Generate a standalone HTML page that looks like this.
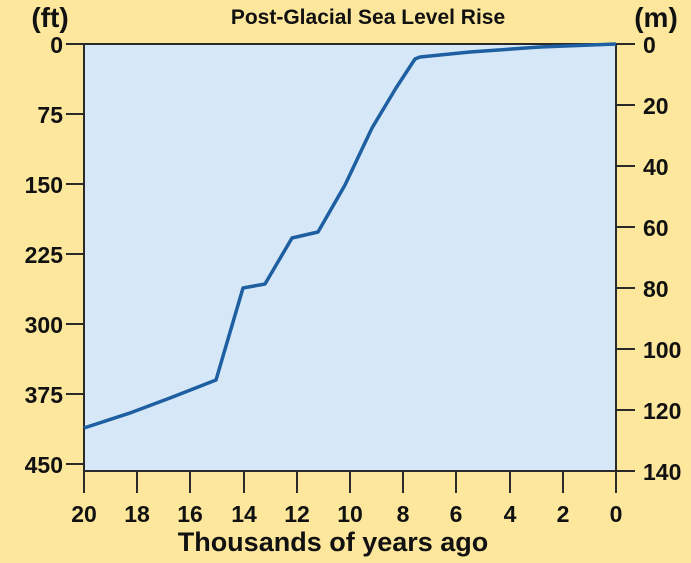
<!DOCTYPE html>
<html><head><style>body{margin:0;background:#fce79d}</style></head><body>
<svg width="691" height="563" xmlns="http://www.w3.org/2000/svg" style="display:block;font-family:'Liberation Sans',sans-serif;font-weight:bold">
<rect width="691" height="563" fill="#fce79d"/>
<rect x="84" y="44" width="532" height="427" fill="#d6e8f8" stroke="#2a2a2a" stroke-width="2"/>
<g stroke="#2a2a2a" stroke-width="2">
<line x1="66" y1="44" x2="84" y2="44"/><line x1="66" y1="114" x2="84" y2="114"/><line x1="66" y1="184" x2="84" y2="184"/><line x1="66" y1="254" x2="84" y2="254"/><line x1="66" y1="324" x2="84" y2="324"/><line x1="66" y1="394" x2="84" y2="394"/><line x1="66" y1="464" x2="84" y2="464"/>
<line x1="616" y1="44" x2="635" y2="44"/><line x1="616" y1="105" x2="635" y2="105"/><line x1="616" y1="166" x2="635" y2="166"/><line x1="616" y1="227" x2="635" y2="227"/><line x1="616" y1="288" x2="635" y2="288"/><line x1="616" y1="349" x2="635" y2="349"/><line x1="616" y1="410" x2="635" y2="410"/><line x1="616" y1="471" x2="635" y2="471"/>
<line x1="84" y1="471" x2="84" y2="493"/><line x1="137" y1="471" x2="137" y2="493"/><line x1="190" y1="471" x2="190" y2="493"/><line x1="244" y1="471" x2="244" y2="493"/><line x1="297" y1="471" x2="297" y2="493"/><line x1="350" y1="471" x2="350" y2="493"/><line x1="403" y1="471" x2="403" y2="493"/><line x1="456" y1="471" x2="456" y2="493"/><line x1="510" y1="471" x2="510" y2="493"/><line x1="563" y1="471" x2="563" y2="493"/><line x1="616" y1="471" x2="616" y2="493"/>
</g>
<polyline fill="none" stroke="#1d5fa0" stroke-width="3.5" stroke-linejoin="round" points="84,428 130,413 170,398 216,380 243,288 265,284 292,238 318,232 345,185 372,128 396,88 415,59 420,57 470,52 540,47 616,44"/>
<g font-size="23" fill="#111" text-anchor="end">
<text x="63" y="53">0</text><text x="63" y="123">75</text><text x="63" y="193">150</text><text x="63" y="263">225</text><text x="63" y="333">300</text><text x="63" y="403">375</text><text x="63" y="473">450</text>
</g>
<g font-size="23" fill="#111" text-anchor="start">
<text x="643" y="53">0</text><text x="643" y="114">20</text><text x="643" y="175">40</text><text x="643" y="236">60</text><text x="643" y="297">80</text><text x="643" y="358">100</text><text x="643" y="419">120</text><text x="643" y="480">140</text>
</g>
<g font-size="23" fill="#111" text-anchor="middle">
<text x="84" y="522">20</text><text x="137" y="522">18</text><text x="190" y="522">16</text><text x="244" y="522">14</text><text x="297" y="522">12</text><text x="350" y="522">10</text><text x="403" y="522">8</text><text x="456" y="522">6</text><text x="510" y="522">4</text><text x="563" y="522">2</text><text x="616" y="522">0</text>
</g>
<text x="50" y="27" font-size="28" fill="#111" text-anchor="middle">(ft)</text>
<text x="656" y="27" font-size="28" fill="#111" text-anchor="middle">(m)</text>
<text x="368" y="24" font-size="21" fill="#111" text-anchor="middle">Post-Glacial Sea Level Rise</text>
<text x="333" y="551" font-size="27" fill="#111" text-anchor="middle">Thousands of years ago</text>
</svg>
</body></html>
